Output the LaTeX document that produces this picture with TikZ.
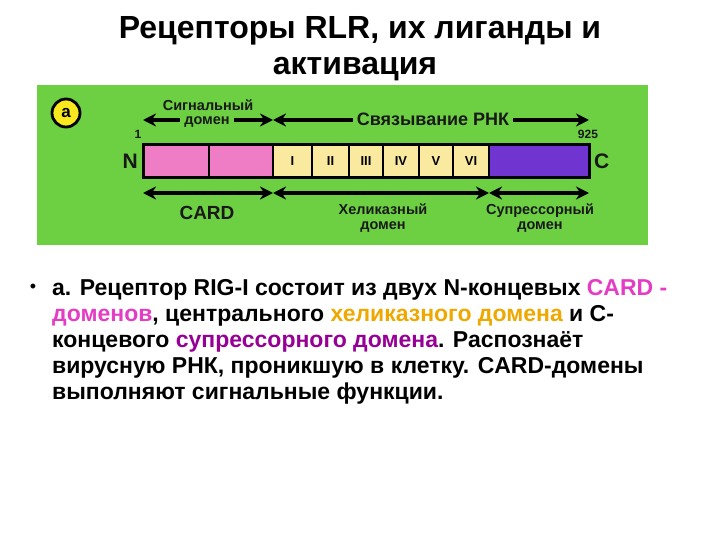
\documentclass[tikz,border=0pt]{standalone}
\usepackage{fontspec}
\setmainfont{Liberation Sans}
\usepackage{xcolor}
\usetikzlibrary{arrows.meta, positioning}

\definecolor{bggreen}{RGB}{108,208,66}
\definecolor{cardpink}{RGB}{238,125,198}
\definecolor{helyellow}{RGB}{250,234,160}
\definecolor{suppurple}{RGB}{112,52,208}
\definecolor{badgeyellow}{RGB}{250,232,30}
\definecolor{cardmag}{RGB}{228,60,196}
\definecolor{helorange}{RGB}{238,168,0}
\definecolor{supvio}{RGB}{150,0,150}

\tikzset{
  domarrow/.style={line width=3.4pt,
    {Stealth[length=13pt,width=13pt]}-{Stealth[length=13pt,width=13pt]}},
  cell/.style={draw, line width=1.2pt, minimum height=33pt, inner sep=0pt,
    outer sep=0pt, anchor=west,
    font=\bfseries\fontsize{13}{13}\selectfont},
  lbl/.style={font=\bfseries\fontsize{14.5}{15.5}\selectfont,
    align=center, text=black!90, inner sep=0.5pt},
  biglbl/.style={font=\bfseries\fontsize{19}{19}\selectfont,
    text=black!90, inner sep=1pt},
  numlbl/.style={font=\bfseries\fontsize{12}{12}\selectfont,
    text=black!90, inner sep=0pt}
}

\begin{document}
\begin{tikzpicture}[x=1pt, y=-1pt]
    \useasboundingbox (0,0) rectangle (720,540);
    % Title
    \node[font=\bfseries\fontsize{32}{32}\selectfont] (title1) at (360,31)
      {Рецепторы RLR, их лиганды и};
    \node[font=\bfseries\fontsize{32}{32}\selectfont] (title2) at (355,69)
      {активация};
    % Green panel
    \fill[bggreen] (37,85) rectangle (648,245);
    \node[circle, draw, line width=2.8pt, fill=badgeyellow, minimum size=28pt,
      inner sep=0pt, font=\bfseries\fontsize{17}{17}\selectfont]
      (badge) at (66,113) {a};
    % Protein bar
    \node[cell, fill=cardpink, minimum width=66pt] (card1) at (143,161.5) {};
    \node[cell, fill=cardpink, minimum width=64pt] (card2) at (209,161.5) {};
    \foreach \a/\b/\r in {273/312/I, 312/349/II, 349/383/III,
                          383/419/IV, 419/453/V, 453/489/VI} {
      \node[cell, fill=helyellow, minimum width=\b pt-\a pt] (h\r) at (\a,161.5) {\r};
    }
    \node[cell, fill=suppurple, minimum width=100pt] (supp) at (489,161.5) {};
    \draw[line width=3pt] (card1.north west) rectangle (supp.south east);
    % Termini
    \node[biglbl, font=\bfseries\fontsize{21}{21}\selectfont, left=4pt of card1] (nterm) {N};
    \node[biglbl, font=\bfseries\fontsize{21}{21}\selectfont, right=4pt of supp] (cterm) {C};
    \node[numlbl] (first) at (138,134) {1};
    \node[numlbl] (last) at (588,134) {925};
    % Top arrows
    \coordinate (sigL) at (143,120);
    \coordinate (sigR) at (273,120);
    \coordinate (rnaR) at (589,120);
    \draw[domarrow] (sigL) -- (sigR);
    \draw[domarrow] (sigR) -- (rnaR);
    \node[lbl] (sigtxt) at (208,105) {Сигнальный};
    \node[lbl, fill=bggreen, inner xsep=4pt, inner ysep=0pt] (sigdom) at (207,122) {домен};
    \node[lbl, fill=bggreen, inner xsep=4pt, font=\bfseries\fontsize{18}{18}\selectfont]
      (rnatxt) at (433,119) {Связывание РНК};
    % Bottom arrows
    \coordinate (cardL) at (143,193);
    \coordinate (cardR) at (273,193);
    \coordinate (helR) at (489,193);
    \coordinate (supR) at (589,193);
    \draw[domarrow] (cardL) -- (cardR);
    \draw[domarrow] (cardR) -- (helR);
    \draw[domarrow] (helR) -- (supR);
    \node[biglbl] (cardtxt) at (207,213) {CARD};
    \node[lbl] (heltxt) at (383,218) {Хеликазный\\домен};
    \node[lbl] (suptxt) at (540,218) {Супрессорный\\домен};
    % Bullet text
    \node[font=\fontsize{18}{18}\selectfont] (bullet) at (33,288) {•};
    \node[anchor=north west, align=left, inner sep=0pt,
      font=\bfseries\fontsize{23}{26}\selectfont] (body) at (52,279)
      {а. Рецептор RIG-I состоит из двух N-концевых \textcolor{cardmag}{CARD -}\\
       \textcolor{cardmag}{доменов}, центрального \textcolor{helorange}{хеликазного домена} и С-\\
       концевого \textcolor{supvio}{супрессорного домена}. Распознаёт\\
       вирусную РНК, проникшую в клетку. CARD-домены\\
       выполняют сигнальные функции.};
\end{tikzpicture}
\end{document}
